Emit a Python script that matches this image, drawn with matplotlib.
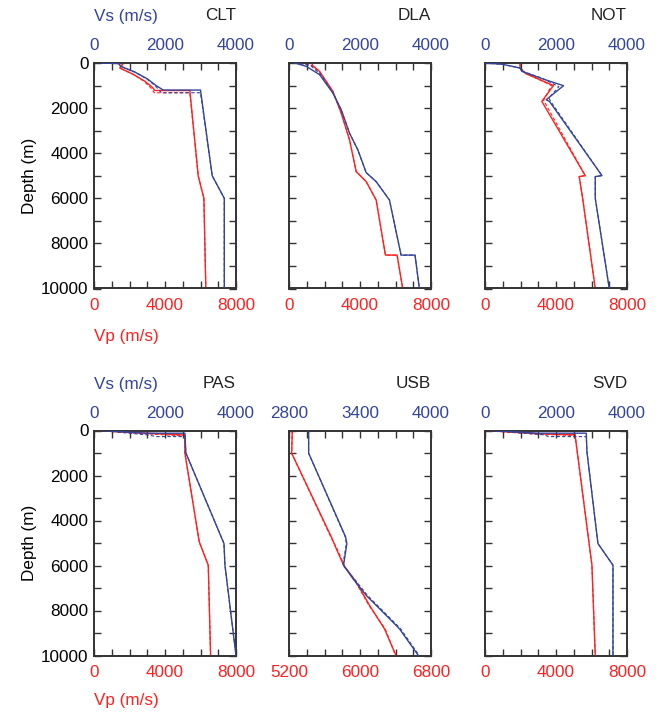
import matplotlib
matplotlib.use("Agg")
import matplotlib.pyplot as plt
from matplotlib.ticker import FixedLocator, MultipleLocator
import numpy as np

plt.rcParams['font.family'] = ['Liberation Sans', 'DejaVu Sans']

stations = ["CLT", "DLA", "NOT", "PAS", "USB", "SVD"]

# ---- CLT ----
clt_vs_depth = [0, 30, 150, 400, 700, 1000, 1200, 1200, 5000, 6000, 10000]
clt_vs = [200, 700, 750, 1150, 1500, 1750, 1950, 3000, 3330, 3670, 3670]
clt_vs0_depth = [0, 30, 150, 400, 700, 1000, 1320, 1320, 5000, 6000, 10000]
clt_vs0 = [200, 700, 760, 1150, 1480, 1720, 1900, 3000, 3330, 3670, 3670]
clt_vp_depth = [0, 30, 220, 500, 800, 1050, 1220, 1220, 5000, 6000, 10000]
clt_vp = [1100, 1640, 1450, 2200, 2850, 3250, 3430, 5400, 5870, 6190, 6300]
clt_vp0_depth = [0, 30, 220, 500, 800, 1100, 1320, 1320, 5000, 6000, 10000]
clt_vp0 = [1100, 1640, 1450, 2200, 2800, 3200, 3400, 5400, 5870, 6190, 6300]

# ---- DLA ----
dla_vs_depth = [0, 148, 519, 1333, 2074, 3111, 3852, 4859, 5259, 6074, 8519, 8519, 10000]
dla_vs = [160, 487, 862, 1237, 1471, 1705, 1939, 2173, 2454, 2829, 3157, 3550, 3672]
dla_vs0_depth = [0, 100, 519, 1333, 2074, 3111, 3852, 4859, 5259, 6074, 8519, 8519, 10000]
dla_vs0 = [160, 600, 900, 1237, 1471, 1705, 1939, 2173, 2454, 2829, 3157, 3550, 3672]
dla_vp_depth = [0, 100, 370, 1259, 2222, 3407, 4815, 5259, 6074, 8519, 8519, 10000]
dla_vp = [1311, 1311, 1724, 2473, 2941, 3410, 3785, 4347, 4909, 5433, 6089, 6407]
dla_vp0_depth = [0, 100, 370, 1259, 2222, 3407, 4815, 5259, 6074, 8519, 8519, 10000]
dla_vp0 = [600, 1250, 1700, 2473, 2941, 3410, 3785, 4347, 4909, 5433, 6089, 6407]

# ---- NOT ----
not_vs_depth = [0, 60, 222, 370, 474, 667, 1007, 1630, 1704, 4993, 5037, 6000, 10000]
not_vs = [0, 499, 988, 1035, 1224, 1553, 2212, 1722, 1816, 3294, 3106, 3106, 3501]
not_vs0_depth = [0, 60, 222, 370, 474, 667, 1050, 1550, 1704, 4993, 5037, 6000, 10000]
not_vs0 = [0, 499, 988, 1060, 1250, 1600, 2080, 1800, 1850, 3294, 3106, 3106, 3501]
not_vp_depth = [0, 222, 474, 1000, 1700, 4993, 5037, 6000, 10000]
not_vp = [1976, 1976, 2300, 3859, 3200, 5647, 5308, 5500, 6212]
not_vp0_depth = [0, 222, 474, 1000, 1650, 4993, 5037, 6000, 10000]
not_vp0 = [1976, 1976, 2350, 3750, 3300, 5647, 5308, 5500, 6212]

# ---- PAS ----
pas_vs_depth = [0, 120, 120, 1000, 5022, 5990, 10000]
pas_vs = [200, 1480, 2560, 2588, 3661, 3689, 4000]
pas_vs0_depth = [0, 200, 270, 270, 1000, 5022, 5990, 10000]
pas_vs0 = [200, 1520, 1760, 2560, 2588, 3661, 3689, 4000]
pas_vp_depth = [0, 120, 200, 1000, 4948, 5988, 10000]
pas_vp = [0, 2955, 5120, 5120, 5929, 6437, 6569]
pas_vp0_depth = [0, 150, 240, 1000, 4948, 5988, 10000]
pas_vp0 = [0, 3000, 5120, 5120, 5929, 6437, 6569]

# ---- USB ----
usb_vs_depth = [0, 1010, 4725, 5022, 5988, 6582, 7325, 8068, 8811, 10000]
usb_vs = [2966, 2966, 3278, 3289, 3261, 3340, 3452, 3593, 3733, 3893]
usb_vs0_depth = [0, 1010, 4725, 5022, 5988, 6582, 7325, 8068, 8811, 10000]
usb_vs0 = [2966, 2966, 3275, 3285, 3255, 3350, 3462, 3603, 3743, 3900]
usb_vp_depth = [0, 1010, 4725, 5245, 5988, 6731, 7771, 8811, 10000]
usb_vp = [5237, 5230, 5676, 5732, 5815, 5957, 6107, 6275, 6406]
usb_vp0_depth = [0, 1010, 4725, 5245, 5988, 6731, 7771, 8811, 10000]
usb_vp0 = [5237, 5230, 5670, 5740, 5822, 5950, 6100, 6283, 6400]

# ---- SVD ----
svd_vs_depth = [0, 119, 119, 936, 5022, 5988, 10000]
svd_vs = [150, 1506, 2852, 2871, 3181, 3605, 3605]
svd_vs0_depth = [0, 190, 270, 270, 936, 5022, 5988, 10000]
svd_vs0 = [150, 1650, 1790, 2852, 2871, 3181, 3605, 3605]
svd_vp_depth = [0, 150, 190, 250, 5988, 10000]
svd_vp = [0, 3012, 5082, 5082, 6024, 6212]
svd_vp0_depth = [0, 170, 220, 250, 5988, 10000]
svd_vp0 = [0, 3100, 5082, 5082, 6024, 6212]

vs_ranges = {"CLT": (0, 4000), "DLA": (0, 4000), "NOT": (0, 4000),
             "PAS": (0, 4000), "USB": (2800, 4000), "SVD": (0, 4000)}
vp_ranges = {"CLT": (0, 8000), "DLA": (0, 8000), "NOT": (0, 8000),
             "PAS": (0, 8000), "USB": (5200, 6800), "SVD": (0, 8000)}

data = {
    "CLT": (clt_vs_depth, clt_vs, clt_vs0_depth, clt_vs0, clt_vp_depth, clt_vp, clt_vp0_depth, clt_vp0),
    "DLA": (dla_vs_depth, dla_vs, dla_vs0_depth, dla_vs0, dla_vp_depth, dla_vp, dla_vp0_depth, dla_vp0),
    "NOT": (not_vs_depth, not_vs, not_vs0_depth, not_vs0, not_vp_depth, not_vp, not_vp0_depth, not_vp0),
    "PAS": (pas_vs_depth, pas_vs, pas_vs0_depth, pas_vs0, pas_vp_depth, pas_vp, pas_vp0_depth, pas_vp0),
    "USB": (usb_vs_depth, usb_vs, usb_vs0_depth, usb_vs0, usb_vp_depth, usb_vp, usb_vp0_depth, usb_vp0),
    "SVD": (svd_vs_depth, svd_vs, svd_vs0_depth, svd_vs0, svd_vp_depth, svd_vp, svd_vp0_depth, svd_vp0),
}

BLUE = "#33449a"
RED = "#ff2020"
SPINE = "#333333"
FS = 12.3

W, H = 662, 712
lefts = [94, 289, 485]
width = 142
rows = [(63, 288.5), (430.5, 655.5)]
title_y = [16, 384]
vp_label_y = [336, 701]

fig = plt.figure(figsize=(W / 100, H / 100), dpi=100)

for i, st in enumerate(stations):
    r, c = divmod(i, 3)
    top, bot = rows[r]
    ax = fig.add_axes([lefts[c] / W, (H - bot) / H, width / W, (bot - top) / H])
    ax2 = ax.twiny()
    vsd, vs, vs0d, vs0, vpd, vp, vp0d, vp0 = data[st]

    ax.plot(vp, vpd, color=RED, lw=1.0, zorder=3)
    ax.plot(vp0, vp0d, color=RED, lw=0.8, ls=(0, (3, 2)), zorder=3)
    ax2.plot(vs, vsd, color=BLUE, lw=1.0, zorder=3)
    ax2.plot(vs0, vs0d, color=BLUE, lw=0.8, ls=(0, (3, 2)), zorder=3)

    vp_lo, vp_hi = vp_ranges[st]
    vs_lo, vs_hi = vs_ranges[st]
    ax.set_xlim(vp_lo, vp_hi)
    ax2.set_xlim(vs_lo, vs_hi)
    ax.set_ylim(10000, 0)

    ax.xaxis.set_major_locator(FixedLocator(np.linspace(vp_lo, vp_hi, 3)))
    ax.xaxis.set_minor_locator(FixedLocator(np.linspace(vp_lo, vp_hi, 9)))
    ax2.xaxis.set_major_locator(FixedLocator(np.linspace(vs_lo, vs_hi, 3)))
    ax2.xaxis.set_minor_locator(FixedLocator(np.linspace(vs_lo, vs_hi, 9)))
    ax.yaxis.set_major_locator(MultipleLocator(2000))
    ax.yaxis.set_minor_locator(MultipleLocator(1000))
    ax.xaxis.set_major_formatter(plt.FuncFormatter(lambda v, p: f"{v:.0f}"))
    ax2.xaxis.set_major_formatter(plt.FuncFormatter(lambda v, p: f"{v:.0f}"))

    ax.tick_params(axis='both', which='both', direction='in',
                   width=1.0, length=5, right=True, labelsize=FS)
    ax.tick_params(axis='x', which='both', labelcolor=RED, color=SPINE, pad=7)
    ax.tick_params(axis='y', which='both', labelcolor="black", color=SPINE, pad=4)
    ax2.tick_params(axis='x', which='both', direction='in', width=1.0, length=5,
                    labelsize=FS, labelcolor=BLUE, color=SPINE, pad=7)

    for a in (ax, ax2):
        for sp in a.spines.values():
            sp.set_color(SPINE)
            sp.set_linewidth(1.2)

    if c == 0:
        ax.set_ylabel("Depth (m)", fontsize=FS, color="black", labelpad=3)
        fig.text(lefts[c] / W, 1 - title_y[r] / H, "Vs (m/s)", ha='left',
                 va='center', fontsize=FS, color=BLUE)
        fig.text(lefts[c] / W, 1 - vp_label_y[r] / H, "Vp (m/s)", ha='left',
                 va='center', fontsize=FS, color=RED)
    else:
        ax.tick_params(axis='y', labelleft=False)

    fig.text((lefts[c] + width) / W, 1 - title_y[r] / H, st,
             ha='right', va='center', fontsize=FS, color="#222222")

fig.savefig("out.png", dpi=100)
